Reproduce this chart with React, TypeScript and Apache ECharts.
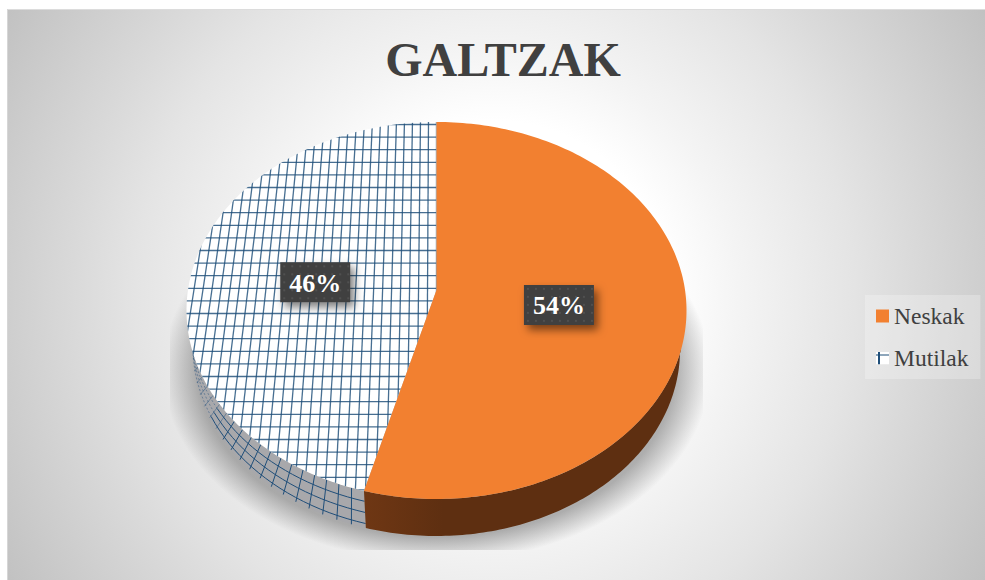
import React, { useEffect, useRef } from "react";
import * as echarts from "echarts";

const chartTitle = "GALTZAK";
const categories = ["Neskak", "Mutilak"];
const shares = [54, 46];
const faceColor = "#F28030";
const hatchColor = "#1F4E79";
const serif = '"Liberation Serif"';

const CX = 436.5, TOP_CY = 310.5, TOP_RX = 250, TOP_RY = 188.5;
const BOT_CY = 350, BOT_RX = 243.5, BOT_RY = 186;
const APEX_Y = 290, PERSPECTIVE = 0.852, WALL_JOIN = 12;
const rad = (d: number) => (d * Math.PI) / 180;

// angle on the circle (degrees from the top, clockwise) -> angle on the drawn outline
const project = (deg: number) =>
  (2 * Math.atan2(Math.sin(rad(deg) / 2) * PERSPECTIVE, Math.cos(rad(deg) / 2)) * 180) / Math.PI;
const top = (p: number) => [CX + TOP_RX * Math.sin(rad(p)), TOP_CY - TOP_RY * Math.cos(rad(p))];
const bot = (p: number) => [CX + BOT_RX * Math.sin(rad(p)), BOT_CY - BOT_RY * Math.cos(rad(p))];
const range = (a: number, b: number, step: number) => {
  const out: number[] = [];
  const n = Math.max(1, Math.round(Math.abs(b - a) / step));
  for (let i = 0; i <= n; i++) out.push(a + ((b - a) * i) / n);
  return out;
};
const total = shares.reduce((s, v) => s + v, 0);

function labelBox(text: string, x: number, y: number) {
  const dots: any[] = [];
  for (let r = 0; r < 5; r++) {
    for (let c = 0; c < 9; c++) {
      dots.push({
        type: "rect",
        shape: { x: x - 32 + c * 8, y: y - 17 + r * 8, width: 2, height: 2 },
        style: { fill: "#505050" },
        silent: true,
      });
    }
  }
  return [
    {
      type: "rect",
      shape: { x: x - 35, y: y - 20, width: 70, height: 40 },
      style: { fill: "#404040", shadowBlur: 9, shadowOffsetX: 4, shadowOffsetY: 5, shadowColor: "rgba(0,0,0,0.5)" },
    },
    ...dots,
    {
      type: "text",
      style: {
        text, x, y: y + 1, fill: "#FFFFFF", font: `bold 26px ${serif}`,
        textAlign: "center", textVerticalAlign: "middle",
      },
    },
  ];
}

function labelCentre(midPhi: number, reach: number) {
  const o = top(midPhi);
  return [CX + (o[0] - CX) * reach, APEX_Y + (o[1] - APEX_Y) * 0.49 + 8];
}

function renderNeskak(_: any, api: any) {
  const v = api.value(0);
  const endPhi = project((v / total) * 360);
  const face = [[CX, APEX_Y], ...range(0, endPhi, 1).map(top)];
  const topWall = range(90 + WALL_JOIN, endPhi, 1).map(top);
  const botWall = range(endPhi, 90, 1).map(bot);
  const mid = project(((v / total) * 360) / 2);
  const c = labelCentre(mid, 0.49);
  return {
    type: "group",
    children: [
      {
        type: "polygon",
        shape: { points: [...topWall, ...botWall] },
        style: {
          fill: new echarts.graphic.LinearGradient(0, 0, 1, 0, [
            { offset: 0, color: "#6E3714" },
            { offset: 0.06, color: "#6B3513" },
            { offset: 0.25, color: "#5E2F11" },
            { offset: 1, color: "#5E2F11" },
          ]),
        },
      },
      { type: "polygon", shape: { points: face }, style: { fill: faceColor } },
      ...labelBox(`${Math.round(v)}%`, c[0], c[1]),
    ],
  };
}

function renderMutilak(_: any, api: any) {
  const v = api.value(0);
  const startPhi = project(((total - v) / total) * 360);
  const face = [[CX, APEX_Y], ...range(startPhi, 360, 1).map(top)];
  const joinTop = 270 - WALL_JOIN;
  const topWall = range(startPhi, joinTop, 1).map(top);
  const botWall = range(270, startPhi, 1).map(bot);
  const lines: any[] = [];
  // horizontal hatch of the face
  for (let y = 288.3 - 13 * 12.6; y < 500; y += 12.6) {
    lines.push({ type: "line", shape: { x1: 170, y1: y, x2: CX, y2: y }, style: { stroke: hatchColor, lineWidth: 1.3, opacity: 0.82 } });
  }
  // vertical hatch of the face, fanning out towards the viewer
  for (let n = 0; n < 36; n++) {
    const a = 8, b = 10.2;
    lines.push({
      type: "line",
      shape: { x1: CX - n * a, y1: 120, x2: CX - n * b, y2: 500 },
      style: { stroke: hatchColor, lineWidth: 1.3, opacity: 0.82 },
    });
  }
  const wallLines: any[] = [];
  const bp = (p: number) => bot(startPhi + ((p - startPhi) / (joinTop - startPhi)) * (270 - startPhi));
  for (let p = startPhi + 3; p < joinTop; p += 3.1) {
    const a = top(p), b = bp(p);
    const fade = p > 235 ? 0.45 : 1;
    wallLines.push({ type: "line", shape: { x1: a[0], y1: a[1], x2: b[0], y2: b[1] }, style: { stroke: hatchColor, lineWidth: 1, opacity: fade } });
  }
  for (const f of [0.28, 0.58, 0.88]) {
    const pts = range(startPhi, 240, 2).map((p) => {
      const a = top(p), b = bp(p);
      return [a[0] + (b[0] - a[0]) * f, a[1] + (b[1] - a[1]) * f];
    });
    wallLines.push({ type: "polyline", shape: { points: pts }, style: { stroke: hatchColor, lineWidth: 1, fill: "none" } });
    const far = range(240, joinTop, 2).map((p) => {
      const a = top(p), b = bp(p);
      return [a[0] + (b[0] - a[0]) * f, a[1] + (b[1] - a[1]) * f];
    });
    wallLines.push({ type: "polyline", shape: { points: far }, style: { stroke: hatchColor, lineWidth: 1, fill: "none", opacity: 0.45, lineDash: [2, 2] } });
  }
  const c = labelCentre(project(((total - v) / total) * 360 + (v / total) * 180), 0.505);
  return {
    type: "group",
    children: [
      { type: "polygon", shape: { points: [...topWall, ...botWall] }, style: { fill: "#A8A8AB" } },
      ...wallLines,
      { type: "polygon", shape: { points: face }, style: { fill: "#FFFFFF" } },
      {
        type: "group",
        clipPath: { type: "polygon", shape: { points: face } },
        children: lines,
      },
      ...labelBox(`${Math.round(v)}%`, c[0], c[1]),
    ],
  };
}

function renderGroundShadow() {
  return {
    type: "group",
    clipPath: { type: "rect", shape: { x: 170, y: 250, width: 533, height: 300 } },
    children: [
      {
        type: "ellipse",
        shape: { cx: CX, cy: 370, rx: 274, ry: 192 },
        style: {
          fill: new echarts.graphic.RadialGradient(0.5, 0.5, 0.5, [
            { offset: 0, color: "rgba(120,120,120,0.58)" },
            { offset: 0.87, color: "rgba(120,120,120,0.58)" },
            { offset: 1, color: "rgba(120,120,120,0)" },
          ]),
        },
      },
    ],
  };
}

const legendMark =
  "image://data:image/svg+xml," +
  encodeURIComponent(
    `<svg xmlns="http://www.w3.org/2000/svg" width="13" height="13"><rect width="13" height="13" fill="#fff"/><rect x="2" width="2" height="13" fill="${hatchColor}"/><rect y="3" width="13" height="1" fill="${hatchColor}"/></svg>`
  );

export default function App() {
  const ref = useRef<HTMLDivElement>(null);
  useEffect(() => {
    const chart = echarts.init(ref.current!, undefined, { renderer: "svg" });
    chart.setOption({
      animation: false,
      title: {
        text: chartTitle,
        left: 498,
        top: 30,
        textAlign: "center",
        textStyle: { fontFamily: serif, fontWeight: "bold", fontSize: 48, color: "#404040" },
      },
      legend: {
        orient: "vertical",
        left: 865,
        top: 295,
        padding: [9, 12, 9, 11],
        backgroundColor: "rgba(255,255,255,0.25)",
        itemWidth: 13,
        itemHeight: 13,
        itemGap: 18,
        selectedMode: false,
        textStyle: { fontFamily: serif, fontSize: 23.5, color: "#404040" },
        data: [
          { name: categories[0], icon: "rect", itemStyle: { color: faceColor } },
          { name: categories[1], icon: legendMark },
        ],
      },
      graphic: [
        {
          type: "rect",
          z: -10,
          shape: { x: 7, y: 9, width: 978, height: 571 },
          style: {
            fill: new echarts.graphic.RadialGradient(495, 295, 580, [
              { offset: 0, color: "#FFFFFF" },
              { offset: 0.3, color: "#FFFFFF" },
              { offset: 0.42, color: "#F4F4F4" },
              { offset: 0.62, color: "#E4E4E4" },
              { offset: 0.72, color: "#DADADA" },
              { offset: 1, color: "#BFBFBF" },
            ], true),
          },
        },
        { type: "line", z: -9, shape: { x1: 7, y1: 9.5, x2: 985, y2: 9.5 }, style: { stroke: "#DCDCDC", lineWidth: 1 } },
        { type: "line", z: -9, shape: { x1: 7.5, y1: 9, x2: 7.5, y2: 580 }, style: { stroke: "#D6D6D6", lineWidth: 1 } },
      ],
      series: [
        { type: "custom", name: "shadow", coordinateSystem: "none", silent: true, z: 1, renderItem: renderGroundShadow, data: [[1]] },
        { type: "custom", name: categories[0], coordinateSystem: "none", z: 3, renderItem: renderNeskak, data: [[shares[0]]], itemStyle: { color: faceColor } },
        { type: "custom", name: categories[1], coordinateSystem: "none", z: 2, renderItem: renderMutilak, data: [[shares[1]]], itemStyle: { color: hatchColor } },
      ],
    });
    return () => chart.dispose();
  }, []);
  return <div ref={ref} style={{ position: "absolute", left: 0, top: 0, width: 985, height: 580 }} />;
}
